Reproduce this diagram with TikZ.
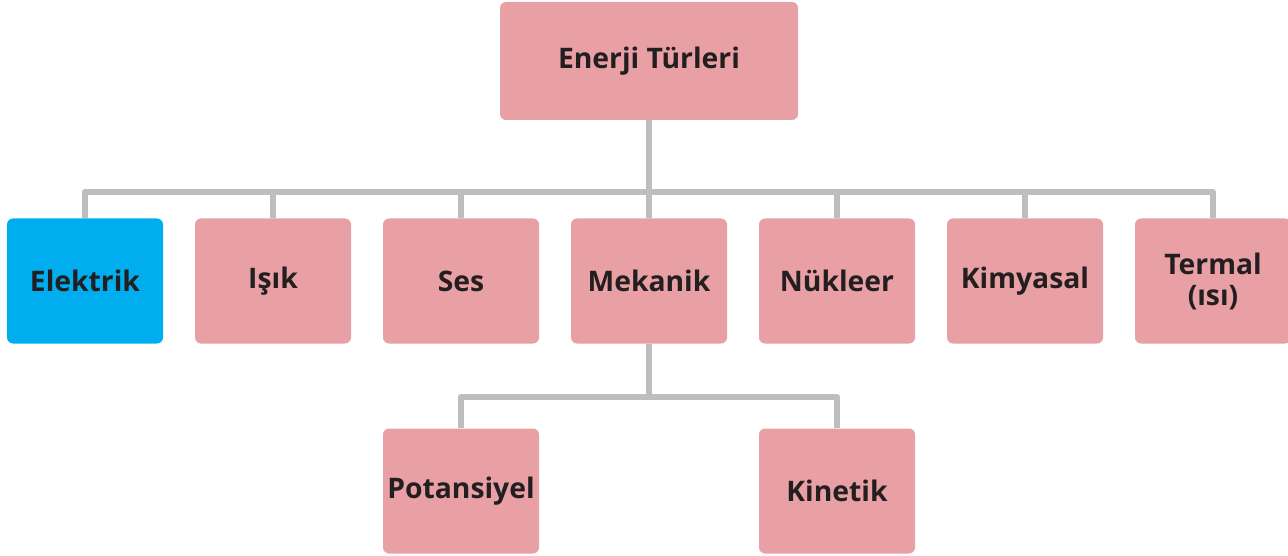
\documentclass[tikz,border=0pt]{standalone}
\usepackage{fontspec}
\setmainfont{Open Sans}
\usetikzlibrary{backgrounds}
\definecolor{boxpink}{HTML}{E8A0A4}
\definecolor{boxblue}{HTML}{00AEEF}
\definecolor{linegrey}{HTML}{BCBEC0}
\definecolor{txt}{HTML}{231F20}
\begin{document}
\begin{tikzpicture}[x=1pt,y=-1pt,
  ebox/.style={fill=boxpink, rounded corners=6pt, minimum width=156pt, minimum height=125pt,
    inner sep=0pt, text=txt, font=\fontsize{28.3}{31}\selectfont\bfseries, align=center},
  bluebox/.style={ebox, fill=boxblue},
  conn/.style={draw=linegrey, line width=6.5pt, line join=round}]
\useasboundingbox (0,0) rectangle (1288,556);
\node[ebox, minimum width=298pt, minimum height=118pt] (top) at (649,61) {Enerji Türleri};
\node[bluebox] (el) at (85,281) {Elektrik};
\node[ebox] (is) at (273,281) {Işık};
\node[ebox] (se) at (461,281) {Ses};
\node[ebox] (me) at (649,281) {Mekanik};
\node[ebox] (nu) at (837,281) {Nükleer};
\node[ebox] (ki) at (1025,281) {Kimyasal};
\node[ebox] (te) at (1213,281) {Termal\\(ısı)};
\node[ebox] (po) at (461,491) {Potansiyel};
\node[ebox] (kn) at (837,491) {Kinetik};
\coordinate (bus) at (649,192);
\coordinate (bus2) at (649,397);
\begin{scope}[on background layer]
\draw[conn] (top.south) -- (bus);
\foreach \n in {el,is,se,me,nu,ki,te}{
  \draw[conn] (\n.north) |- (bus);
}
\draw[conn] (me.south) -- (bus2);
\foreach \n in {po,kn}{
  \draw[conn] (\n.north) |- (bus2);
}
\end{scope}
\end{tikzpicture}
\end{document}
